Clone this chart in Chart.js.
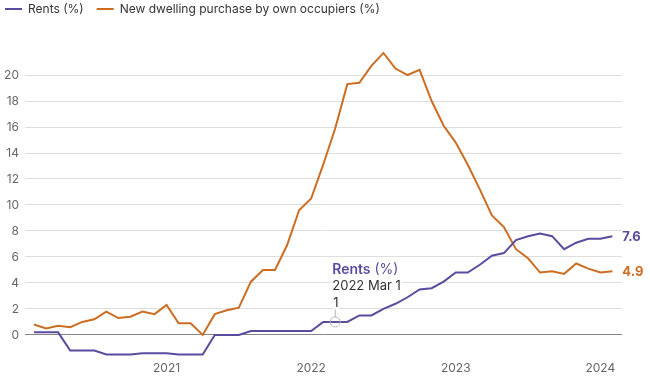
<!DOCTYPE html>
<html><head><meta charset="utf-8">
<script src="https://cdn.jsdelivr.net/npm/chart.js@4/dist/chart.umd.min.js"></script>
<style>html,body{margin:0;padding:0;background:#fff}#wrap{width:650px;height:383px;position:relative}</style>
</head><body><div id="wrap"><canvas id="c"></canvas></div>
<script>
const months = [
  '2020 Feb','2020 Mar','2020 Apr','2020 May','2020 Jun','2020 Jul','2020 Aug','2020 Sep','2020 Oct','2020 Nov','2020 Dec',
  '2021 Jan','2021 Feb','2021 Mar','2021 Apr','2021 May','2021 Jun','2021 Jul','2021 Aug','2021 Sep','2021 Oct','2021 Nov','2021 Dec',
  '2022 Jan','2022 Feb','2022 Mar','2022 Apr','2022 May','2022 Jun','2022 Jul','2022 Aug','2022 Sep','2022 Oct','2022 Nov','2022 Dec',
  '2023 Jan','2023 Feb','2023 Mar','2023 Apr','2023 May','2023 Jun','2023 Jul','2023 Aug','2023 Sep','2023 Oct','2023 Nov','2023 Dec',
  '2024 Jan','2024 Feb'
];
const rents = [
  0.2, 0.2, 0.2, -1.2, -1.2, -1.2, -1.5, -1.5, -1.5, -1.4,
  -1.4, -1.4, -1.5, -1.5, -1.5, 0, 0, 0, 0.3, 0.3,
  0.3, 0.3, 0.3, 0.3, 1, 1, 1, 1.5, 1.5, 2.0,
  2.4, 2.9, 3.5, 3.6, 4.1, 4.8, 4.8, 5.4, 6.1, 6.3,
  7.3, 7.6, 7.8, 7.6, 6.6, 7.1, 7.4, 7.4, 7.6
];
const dwelling = [
  0.8, 0.5, 0.7, 0.6, 1.0, 1.2, 1.8, 1.3, 1.4, 1.8,
  1.6, 2.3, 0.9, 0.9, 0.0, 1.6, 1.9, 2.1, 4.1, 5.0,
  5.0, 6.9, 9.6, 10.5, 13.1, 15.9, 19.3, 19.4, 20.7, 21.7,
  20.5, 20.0, 20.4, 18.0, 16.1, 14.8, 13.1, 11.2, 9.2, 8.3,
  6.6, 5.9, 4.8, 4.9, 4.7, 5.5, 5.1, 4.8, 4.9
];
const seriesNames = ['Rents (%)', 'New dwelling purchase by own occupiers (%)'];
const yearTickIdx = [11, 23, 35, 47];
const yearTickLabels = ['2021', '2022', '2023', '2024'];
const yTicks = [0, 2, 4, 6, 8, 10, 12, 14, 16, 18, 20];
const highlightIdx = 25;

const PURPLE = '#5b4b9e';
const ORANGE = '#cc6d22';
const FONT = 'Inter, "Open Sans", sans-serif';

const toPts = arr => arr.map((v, i) => ({ x: i, y: v }));

const annot = {
  id: 'annot',
  afterDatasetsDraw(chart) {
    const ctx = chart.ctx;
    chart.data.datasets.forEach((ds, di) => {
      const meta = chart.getDatasetMeta(di);
      const pt = meta.data[meta.data.length - 1];
      const v = ds.data[ds.data.length - 1].y;
      ctx.save();
      ctx.font = 'bold 13px ' + FONT;
      ctx.fillStyle = ds.borderColor;
      ctx.textBaseline = 'middle';
      ctx.textAlign = 'left';
      ctx.fillText(v.toFixed(1), pt.x + 10, pt.y + 1);
      ctx.restore();
    });
    const p = chart.getDatasetMeta(0).data[highlightIdx];
    const val = chart.data.datasets[0].data[highlightIdx].y;
    ctx.save();
    ctx.strokeStyle = '#b5b5b5';
    ctx.lineWidth = 1;
    ctx.beginPath();
    ctx.moveTo(p.x, p.y - 5);
    ctx.lineTo(p.x, p.y - 14);
    ctx.stroke();
    ctx.beginPath();
    ctx.arc(p.x, p.y, 5, 0, Math.PI * 2);
    ctx.stroke();
    ctx.textBaseline = 'middle';
    ctx.textAlign = 'left';
    ctx.lineJoin = 'round';
    ctx.strokeStyle = '#fff';
    ctx.lineWidth = 5;
    const tx = p.x - 3;
    const halo = (t, x, y, col) => { ctx.strokeText(t, x, y); ctx.fillStyle = col; ctx.fillText(t, x, y); };
    ctx.font = '600 14px ' + FONT;
    const w1 = ctx.measureText('Rents').width;
    halo('Rents', tx, p.y - 52, PURPLE);
    ctx.font = '400 14px ' + FONT;
    halo(' (%)', tx + w1, p.y - 52, PURPLE);
    ctx.font = '400 13px ' + FONT;
    halo(months[highlightIdx] + ' 1', tx, p.y - 36, '#333');
    halo(String(val), tx + 1, p.y - 19, '#333');
    ctx.restore();
  }
};

new Chart(document.getElementById('c'), {
  type: 'line',
  data: {
    datasets: [
      { label: seriesNames[0], data: toPts(rents), borderColor: PURPLE, backgroundColor: PURPLE, borderWidth: 2, pointRadius: 0, tension: 0 },
      { label: seriesNames[1], data: toPts(dwelling), borderColor: ORANGE, backgroundColor: ORANGE, borderWidth: 2, pointRadius: 0, tension: 0 }
    ]
  },
  options: {
    responsive: true,
    maintainAspectRatio: false,
    animation: false,
    events: [],
    layout: { padding: { top: -10, left: -8, right: 28, bottom: 0 } },
    plugins: {
      tooltip: { enabled: false },
      legend: {
        position: 'top',
        align: 'start',
        labels: {
          boxWidth: 17,
          boxHeight: 2,
          padding: 13,
          color: '#333',
          font: { family: FONT, size: 12, weight: '400' },
          generateLabels: (chart) => chart.data.datasets.map((ds, i) => ({
            text: ds.label, fillStyle: ds.borderColor, strokeStyle: ds.borderColor,
            lineWidth: 0, hidden: false, datasetIndex: i, fontColor: '#333'
          }))
        }
      }
    },
    scales: {
      x: {
        type: 'linear',
        min: -0.75,
        max: 48.8,
        grid: { display: false },
        border: { display: false },
        afterBuildTicks: (s) => { s.ticks = yearTickIdx.map(v => ({ value: v })); },
        afterFit: (s) => { s.height = 27; },
        ticks: {
          autoSkip: false, maxRotation: 0, padding: -3, color: '#666',
          font: { family: FONT, size: 12 },
          callback: (v) => { const k = yearTickIdx.indexOf(v); return k >= 0 ? yearTickLabels[k] : ''; }
        }
      },
      y: {
        min: -1.62,
        max: 23.85,
        grid: {
          drawTicks: false,
          color: (c) => (c.tick && c.tick.value === 0) ? '#858585' : '#dedede',
          lineWidth: 1
        },
        border: { display: false },
        afterBuildTicks: (s) => { s.ticks = yTicks.map(v => ({ value: v })); },
        afterFit: (s) => { s.width = 33; },
        ticks: { padding: 6, color: '#666', font: { family: FONT, size: 12 } }
      }
    }
  },
  plugins: [annot]
});
</script>
</body></html>
